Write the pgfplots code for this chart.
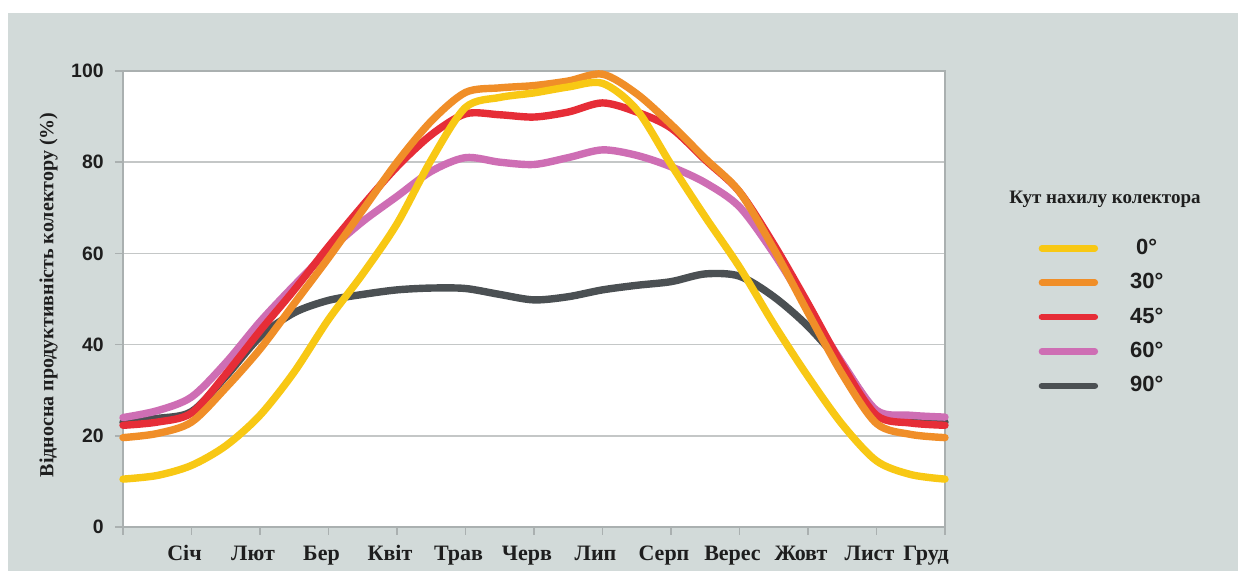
\documentclass[border=0pt]{standalone}
\usepackage{pgfplots}
\pgfplotsset{compat=1.18}
\usepackage{fontspec}
\setmainfont{Liberation Serif}
\newfontfamily\sansf{Liberation Sans}
\definecolor{bg}{RGB}{210,218,217}
\definecolor{cyel}{RGB}{248,200,20}
\definecolor{cora}{RGB}{240,142,40}
\definecolor{cred}{RGB}{230,45,55}
\definecolor{cpink}{RGB}{206,110,180}
\definecolor{cgray}{RGB}{75,80,83}
\definecolor{gridc}{RGB}{196,199,199}
\definecolor{axc}{RGB}{170,176,176}
\definecolor{txt}{RGB}{30,30,30}

\pgfplotstableread{
x   y0    y30   y45   y60   y90
0   10.5  19.6  22.3  24.0  23.0
0.5 11.3  20.5  23.0  25.5  23.8
1   13.5  23.0  25.0  28.5  25.3
1.5 17.8  30.5  33.5  36.0  33.0
2   24.5  39.0  43.0  45.0  41.7
2.5 34.0  49.0  52.0  53.0  47.0
3   45.5  59.0  61.5  60.5  49.7
3.5 55.5  69.5  70.5  67.0  51.0
4   66.5  80.0  79.0  72.5  52.0
4.5 80.5  89.0  86.0  78.0  52.4
5   92.0  95.3  90.6  81.0  52.3
5.5 94.2  96.3  90.4  80.0  51.0
6   95.2  96.8  89.9  79.5  49.8
6.5 96.5  97.8  91.0  81.0  50.5
7   97.3  99.3  93.0  82.7  52.0
7.5 91.5  95.0  91.0  81.5  53.0
8   79.5  88.3  87.5  79.0  53.8
8.5 68.0  80.8  80.5  75.5  55.5
9   57.0  73.5  73.5  70.2  55.0
9.5 44.5  61.0  62.0  60.0  50.5
10  33.0  47.0  49.0  48.0  44.0
10.5 22.5 33.5  35.5  36.0  35.5
11  14.5  22.7  24.5  25.6  25.3
11.5 11.5 20.3  22.8  24.5  23.5
12  10.5  19.6  22.3  24.1  23.0
}\datatab

\begin{document}
\begin{tikzpicture}
\useasboundingbox (0,0) rectangle (619pt,285.5pt);
\fill[white] (0,0) rectangle (619pt,285.5pt);
\fill[bg] (4pt,0) rectangle (619pt,279pt);
\begin{axis}[
  at={(61.5pt,22pt)}, anchor=south west,
  scale only axis, width=411pt, height=228pt,
  xmin=0, xmax=12, ymin=0, ymax=100,
  axis background/.style={fill=white},
  axis line style={axc, line width=0.8pt},
  xtick={0,...,12},
  xticklabels={{},Січ,Лют,Бер,Квіт,Трав,Черв,Лип,Серп,Верес,Жовт,Лист,Груд\hspace*{12pt}},
  ytick={0,20,...,100},
  xtick pos=bottom, ytick pos=left,
  ymajorgrids, major grid style={gridc, line width=0.8pt},
  tick align=outside, major tick length=4pt,
  tick style={axc, line width=0.8pt},
  x tick label style={font=\fontsize{11}{11}\selectfont\bfseries, text=txt, anchor=base, inner sep=0pt, yshift=-13pt, xshift=-3.5pt},
  y tick label style={font=\sansf\fontsize{9.7}{9.7}\selectfont\bfseries, text=txt, anchor=east, inner sep=0pt, xshift=-5.5pt},
  /pgf/number format/assume math mode=true,
  ylabel={Відносна продуктивність колектору (\%)},
  ylabel style={font=\fontsize{10}{10}\selectfont\bfseries, text=txt, at={(axis description cs:-0.0905,0.509)}, anchor=center},
  clip=false,
  reverse legend,
  legend cell align=center,
  legend style={at={(axis description cs:1.1135,0.4605)}, anchor=west, draw=none, fill=none,
    inner sep=0pt, font=\sansf\fontsize{11}{11}\selectfont\bfseries, text=txt,
    row sep=4pt, column sep=14pt},
  every axis plot/.append style={smooth, line width=3.7pt, line cap=round, line join=round},
  legend image code/.code={\draw[#1, line width=3.2pt, line cap=round] (0pt,0pt) -- (26.5pt,0pt);},
]
\addplot[cgray] table[x=x,y=y90] {\datatab};
\addlegendentry{90°}
\addplot[cpink] table[x=x,y=y60] {\datatab};
\addlegendentry{60°}
\addplot[cred] table[x=x,y=y45] {\datatab};
\addlegendentry{45°}
\addplot[cora] table[x=x,y=y30] {\datatab};
\addlegendentry{30°}
\addplot[cyel] table[x=x,y=y0] {\datatab};
\addlegendentry{0°}
\node[font=\fontsize{9.5}{9.5}\selectfont\bfseries, text=txt] at (axis description cs:1.1946,0.719) {Кут нахилу колектора};
\end{axis}
\end{tikzpicture}
\end{document}
